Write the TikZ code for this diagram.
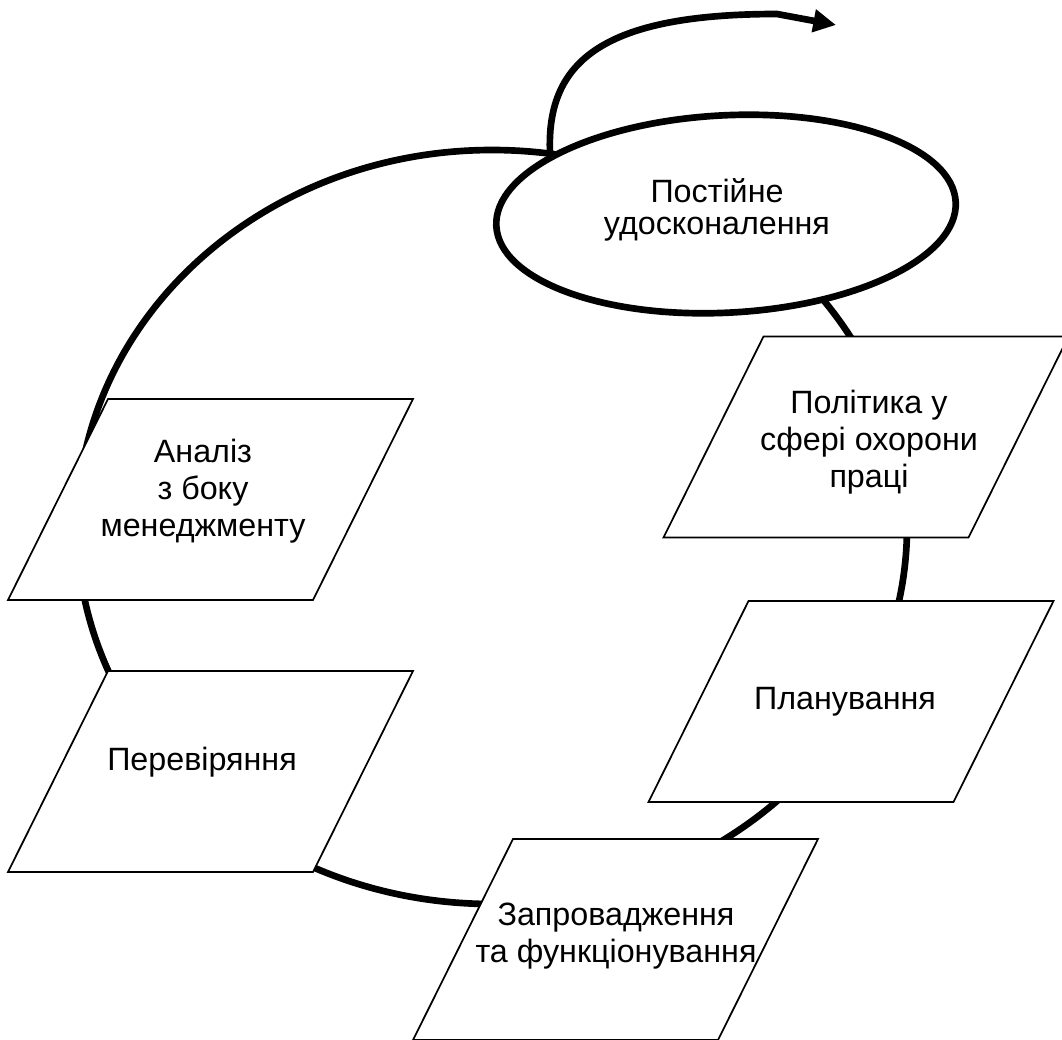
\documentclass[tikz,border=0pt]{standalone}
\usepackage{fontspec}
\setmainfont{Liberation Sans}
\usetikzlibrary{shapes.geometric,arrows.meta}
\tikzset{
  ring/.style={line width=5pt},
  parabox/.style={draw=black, fill=white, line width=1.3pt, line join=miter},
  ovalbox/.style={ellipse, draw=black, fill=white, line width=5pt, minimum width=345pt, minimum height=148pt, inner sep=0pt},
  txt/.style={align=center, inner sep=0pt, font=\fontsize{24.2}{27.75}\selectfont},
  loop arrow/.style={line width=5pt, -{Triangle[length=17pt,width=16.5pt]}},
}
\newcommand{\paragram}[1]{%
  \draw[parabox] ([shift={(-102.5,-100.5)}]#1) -- ([shift={(202.5,-100.5)}]#1)
    -- ([shift={(102.5,100.5)}]#1) -- ([shift={(-202.5,100.5)}]#1) -- cycle;}
\begin{document}
\begin{tikzpicture}[x=0.75pt,y=-0.75pt]
\clip (0,0) rectangle (1062,1039);
\fill[white] (0,0) rectangle (1062,1039);
% big cycle
\draw[ring] (492,527) ellipse [x radius=311.25pt, y radius=282.75pt];
% parallelogram frames
\coordinate (polc) at (866,437);
\coordinate (planc) at (851,701.5);
\coordinate (zapc) at (615.5,939.5);
\coordinate (perc) at (210.5,771.5);
\coordinate (analc) at (210.5,499.5);
\paragram{polc}
\paragram{planc}
\paragram{zapc}
\paragram{perc}
\paragram{analc}
% texts
\node[txt] (pol) at (869,442) {Політика у\\сфері охорони\\праці};
\node[txt] (plan) at (845,702) {Планування};
\node[txt] (zap) at (616,936) {Запровадження\\та функціонування};
\node[txt] (per) at (202,762) {Перевіряння};
\node[txt] (anal) at (203,491) {Аналіз\\з боку\\менеджменту};
% improvement ellipse
\node[ovalbox, rotate=3] (oval) at (726,214) {};
\node[txt, font=\fontsize{24.2}{24.5}\selectfont] (post) at (717,210) {Постійне\\удосконалення};
% exit arrow
\coordinate (loopstart) at (550,153);
\coordinate (loopend) at (836,25);
\draw[loop arrow] (loopstart) .. controls (546,60) and (605,14) .. (777,14) -- (loopend);
\end{tikzpicture}
\end{document}
